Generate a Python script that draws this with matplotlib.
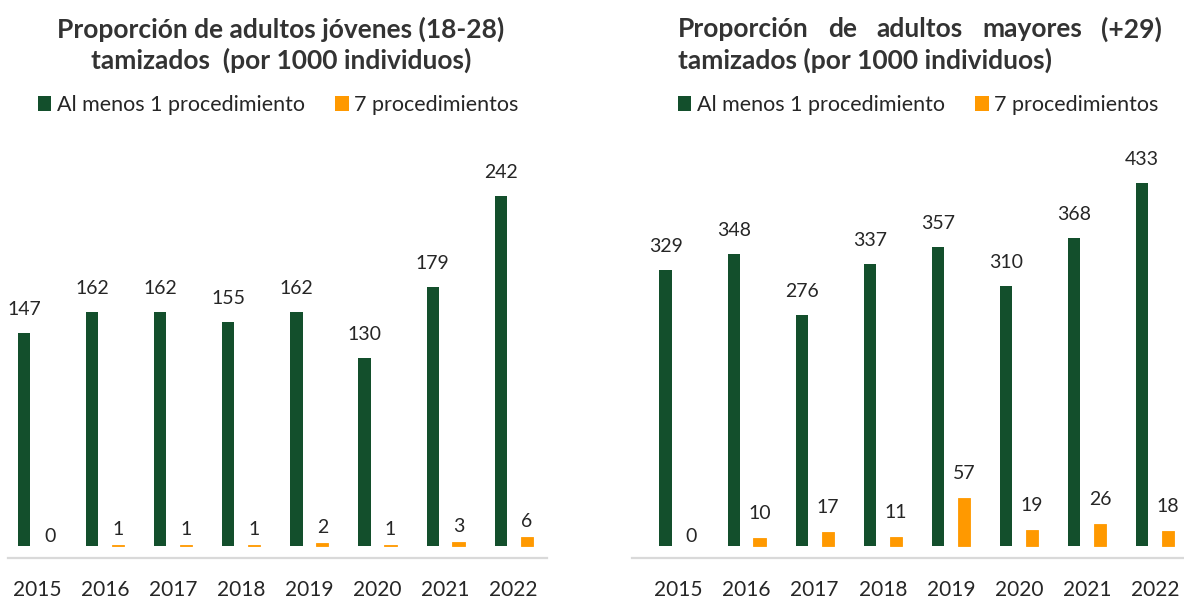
import matplotlib
matplotlib.use("Agg")
import matplotlib.pyplot as plt
import numpy as np


years = ["2015", "2016", "2017", "2018", "2019", "2020", "2021", "2022"]

# adultos jóvenes (18-28)
young_one = [147, 162, 162, 155, 162, 130, 179, 242]
young_seven = [0, 1, 1, 1, 2, 1, 3, 6]

# adultos mayores (+29)
old_one = [329, 348, 276, 337, 357, 310, 368, 433]
old_seven = [0, 10, 17, 11, 57, 19, 26, 18]

GREEN = "#134f2c"
ORANGE = "#ff9900"
TEXT = "#262626"
TITLE = "#333333"
FONT = ["Lato", "DejaVu Sans"]

W, H = 1184, 600


def main():

    plt.rcParams["font.family"] = FONT

    fig = plt.figure(figsize=(W / 100, H / 100), dpi=100)

    # ejes en pixeles: [izq, der], misma base y altura
    axL = fig.add_axes([8 / W, 42 / H, 539 / W, 408 / H])
    axR = fig.add_axes([632 / W, 42 / H, 552 / W, 408 / H])

    DrawPanel(axL, young_one, young_seven, (-0.426, 7.489), (-8.3, 273.9), 7)
    DrawPanel(axR, old_one, old_seven, (-0.683, 7.423), (-14.3, 472.6), 16)

    # titulos
    kw = dict(fontsize=19, fontweight="bold", color=TITLE, va="center")
    fig.text(281 / W, 1 - 29 / H, "Proporción de adultos jóvenes (18-28)", ha="center", **kw)
    fig.text(281 / W, 1 - 60 / H, "tamizados  (por 1000 individuos)", ha="center", **kw)
    Justified(fig, "Proporción de adultos mayores (+29)".split(), 678, 1162, 1 - 29 / H, **kw)
    fig.text(678 / W, 1 - 60 / H, "tamizados (por 1000 individuos)", ha="left", **kw)

    # leyendas
    for ax, x0 in [(axL, 37.5), (axR, 677.5)]:
        ax.legend(loc="center left", bbox_to_anchor=(x0 / W, 1 - 105 / H),
                  bbox_transform=fig.transFigure, ncol=2, frameon=False,
                  fontsize=15.5, handlelength=0.65, handleheight=0.65,
                  handletextpad=0.25, columnspacing=1.4, borderpad=0,
                  borderaxespad=0, labelcolor=TEXT)

    fig.savefig("out.png", dpi=100)

    return


def DrawPanel(ax, one, seven, xlim, ylim, orange_gap):
    """
    Draw grouped bars with value labels
    """

    x = np.arange(len(years))
    off, w = 0.19, 0.18

    b1 = ax.bar(x - off, one, w, color=GREEN, label="Al menos 1 procedimiento")
    b7 = ax.bar(x + off, seven, w, color=ORANGE, edgecolor=ORANGE,
                linewidth=0.6, label="7 procedimientos")
    # la barra en cero no se ve
    for rect, v in zip(b7, seven):
        if v == 0:
            rect.set_linewidth(0)

    for rect, v in zip(b1, one):
        ax.annotate(str(v), (rect.get_x() + rect.get_width() / 2, v),
                    xytext=(0, 15 * 0.72), textcoords="offset points",
                    ha="center", va="bottom", fontsize=14, color=TEXT)
    for rect, v in zip(b7, seven):
        gap = 1 if v == 0 else orange_gap
        ax.annotate(str(v), (rect.get_x() + rect.get_width() / 2, v),
                    xytext=(0, gap * 0.72), textcoords="offset points",
                    ha="center", va="bottom", fontsize=14, color=TEXT)

    ax.set_xlim(*xlim)
    ax.set_ylim(*ylim)
    ax.set_xticks(x)
    ax.set_xticklabels(years, fontsize=15, color=TEXT)
    ax.tick_params(axis="x", length=0, pad=16)
    ax.set_yticks([])
    for s in ["top", "left", "right"]:
        ax.spines[s].set_visible(False)
    ax.spines["bottom"].set_color("#d9d9d9")
    ax.spines["bottom"].set_linewidth(1.6)
    ax.patch.set_alpha(0)

    return


def Justified(fig, words, x0, x1, y, **kw):
    """
    Place words so the line spans x0..x1 pixels
    """

    renderer = fig.canvas.get_renderer()
    texts = [fig.text(0, y, w, ha="left", **kw) for w in words]
    widths = [t.get_window_extent(renderer).width for t in texts]
    gap = (x1 - x0 - sum(widths)) / (len(words) - 1)
    x = x0
    for t, wd in zip(texts, widths):
        t.set_x(x / W)
        x += wd + gap

    return


if __name__ == "__main__":
    main()
